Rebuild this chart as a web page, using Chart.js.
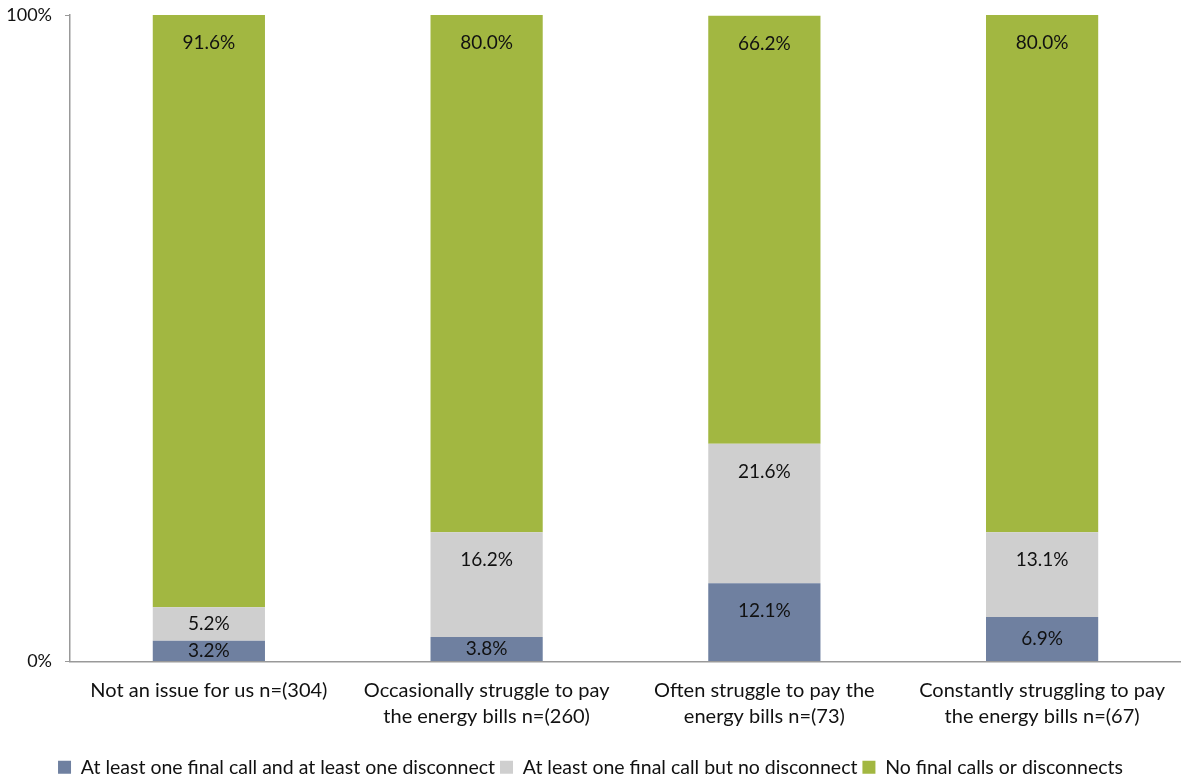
<!DOCTYPE html>
<html>
<head>
<meta charset="utf-8">
<script src="https://cdn.jsdelivr.net/npm/chart.js@4/dist/chart.umd.min.js"></script>
<style>
  html, body { margin: 0; padding: 0; background: #fff; }
  #wrap { width: 1181px; height: 780px; }
</style>
</head>
<body>
<div id="wrap"><canvas id="myChart" width="1181" height="780"></canvas></div>
<script>
// categories (two-line labels)
const categories = [
  ['Not an issue for us n=(304)'],
  ['Occasionally struggle to pay', 'the energy bills n=(260)'],
  ['Often struggle to pay the', 'energy bills n=(73)'],
  ['Constantly struggling to pay', 'the energy bills n=(67)']
]
const seriesNames = [
  'At least one final call and at least one disconnect',
  'At least one final call but no disconnect',
  'No final calls or disconnects'
]
const finalAndDisconnect = [3.2, 3.8, 12.1, 6.9]
const finalNoDisconnect = [5.2, 16.2, 21.6, 13.1]
const noFinalCalls = [91.6, 80.0, 66.2, 80.0]
const yTicks = [0, 100]

const colours = ['#6F80A0', '#CFCFCF', '#A2B741']
const fontFamily = 'Lato, "Open Sans", sans-serif'

// labels sit near the top of each segment, or centred if the segment is small
const segmentLabels = {
  id: 'segmentLabels',
  afterDatasetsDraw(chart) {
    const ctx = chart.ctx
    ctx.save()
    ctx.font = '19px ' + fontFamily
    ctx.fillStyle = '#111'
    ctx.textAlign = 'center'
    ctx.textBaseline = 'middle'
    chart.data.datasets.forEach((ds, i) => {
      chart.getDatasetMeta(i).data.forEach((bar, j) => {
        const top = Math.min(bar.y, bar.base)
        const bottom = Math.max(bar.y, bar.base)
        const y = Math.min(top + 28, (top + bottom) / 2)
        ctx.fillText(ds.data[j].toFixed(1) + '%', bar.x, y)
      })
    })
    ctx.restore()
  }
}

const datasets = [finalAndDisconnect, finalNoDisconnect, noFinalCalls].map((d, i) => ({
  label: seriesNames[i],
  data: d,
  backgroundColor: colours[i],
  borderWidth: 0,
  categoryPercentage: 1.0,
  barPercentage: 0.404
}))

new Chart(document.getElementById('myChart').getContext('2d'), {
  type: 'bar',
  data: { labels: categories, datasets: datasets },
  plugins: [segmentLabels],
  options: {
    responsive: false,
    animation: false,
    layout: { padding: { top: 0, right: 0, left: 0, bottom: -7 } },
    plugins: {
      tooltip: { enabled: false },
      legend: {
        position: 'bottom',
        labels: {
          font: { family: fontFamily, size: 19.5 },
          color: '#111',
          boxWidth: 13,
          boxHeight: 13,
          padding: 5
        }
      }
    },
    scales: {
      x: {
        stacked: true,
        grid: { display: false, drawTicks: false },
        border: { color: '#999', width: 1.5 },
        ticks: {
          font: { family: fontFamily, size: 20, lineHeight: 1.3 },
          color: '#111',
          padding: 16,
          maxRotation: 0,
          autoSkip: false
        },
        afterFit(scale) { scale.height = 91; scale.paddingTop = 0 }
      },
      y: {
        stacked: true,
        min: 0,
        max: 100,
        afterBuildTicks(scale) { scale.ticks = yTicks.map(v => ({ value: v })) },
        grid: { drawOnChartArea: false, tickLength: 5, color: '#999' },
        border: { color: '#999', width: 1.5 },
        ticks: {
          font: { family: fontFamily, size: 18 },
          color: '#111',
          padding: 13,
          callback: v => v + '%'
        },
        afterFit(scale) { scale.width = 70; scale.paddingTop = 15; scale.paddingBottom = 0 }
      }
    }
  }
})
</script>
</body>
</html>
